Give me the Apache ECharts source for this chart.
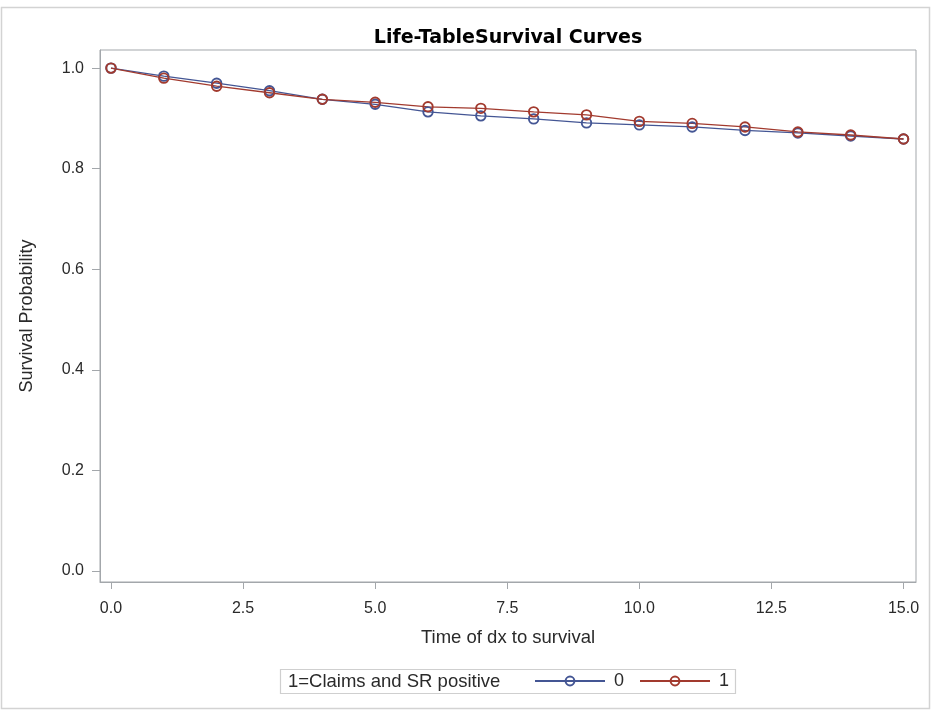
<!DOCTYPE html>
<html>
<head>
<meta charset="utf-8">
<script src="https://cdn.jsdelivr.net/npm/echarts@6/dist/echarts.min.js"></script>
<style>
  html, body { margin: 0; padding: 0; background: #fff; }
  #chart { width: 932px; height: 714px; }
</style>
</head>
<body>
<div id="chart"></div>
<script>
// Life-table survival estimates by group (interval start times 0..15)
const times = [0, 1, 2, 3, 4, 5, 6, 7, 8, 9, 10, 11, 12, 13, 14, 15];
const survival0 = [1.000, 0.984, 0.970, 0.955, 0.938, 0.928, 0.913, 0.905, 0.899, 0.891, 0.887, 0.883, 0.876, 0.871, 0.865, 0.859];
const survival1 = [1.000, 0.980, 0.964, 0.951, 0.938, 0.932, 0.923, 0.920, 0.913, 0.907, 0.894, 0.890, 0.883, 0.873, 0.867, 0.859];
const xTicks = [0, 2.5, 5, 7.5, 10, 12.5, 15];
const yTicks = [0, 0.2, 0.4, 0.6, 0.8, 1.0];
const groupNames = ['0', '1'];
const legendTitle = '1=Claims and SR positive';

const FONT = '"Liberation Sans", Arial, sans-serif';
const TEXT = '#2a2a2a';
const AXIS = '#a3a7ab';
const BLUE = '#445694';
const RED = '#a23a2e';

const chart = echarts.init(document.getElementById('chart'), null, { renderer: 'canvas' });

function pairs(vals) {
  return times.map((t, i) => [t, vals[i]]);
}

// hollow ring markers so overlapping points of both groups stay visible
const seriesStyle = (name, vals, color) => ({
  name: name,
  type: 'line',
  data: pairs(vals),
  symbol: 'circle',
  symbolSize: 9.5,
  showAllSymbol: true,
  lineStyle: { color: color, width: 1.3 },
  itemStyle: { color: 'rgba(255,255,255,0)', borderColor: color, borderWidth: 1.9 },
  emphasis: { disabled: true },
  animation: false
});

chart.setOption({
  backgroundColor: '#fff',
  textStyle: { fontFamily: FONT },
  title: {
    text: 'Life-TableSurvival Curves',
    left: 503,
    textAlign: 'center',
    top: 24,
    textStyle: { fontFamily: '"DejaVu Sans", sans-serif', fontSize: 19, fontWeight: 'bold', color: '#000' }
  },
  grid: {
    left: 100, right: 16, top: 50, bottom: 132,
    show: true, borderColor: AXIS, borderWidth: 1, backgroundColor: '#fff'
  },
  xAxis: {
    type: 'value',
    min: -0.208, max: 15.236,
    name: 'Time of dx to survival',
    nameLocation: 'middle',
    nameGap: 46,
    nameMoveOverlap: false,
    nameTextStyle: { fontFamily: FONT, fontSize: 18.5, color: TEXT, verticalAlign: 'top' },
    axisLine: { show: true, onZero: false, lineStyle: { color: AXIS } },
    axisTick: { show: true, inside: false, length: 7, lineStyle: { color: AXIS }, customValues: xTicks },
    axisLabel: {
      fontFamily: FONT, fontSize: 16, color: TEXT, margin: 19,
      customValues: xTicks,
      formatter: v => v.toFixed(1)
    },
    splitLine: { show: false }
  },
  yAxis: {
    type: 'value',
    min: -0.022, max: 1.036,
    name: 'Survival Probability',
    nameLocation: 'middle',
    nameGap: 64,
    nameMoveOverlap: false,
    nameTextStyle: { fontFamily: FONT, fontSize: 18, color: TEXT },
    axisLine: { show: true, onZero: false, lineStyle: { color: AXIS } },
    axisTick: { show: true, inside: false, length: 8, lineStyle: { color: AXIS }, customValues: yTicks },
    axisLabel: {
      fontFamily: FONT, fontSize: 16, color: TEXT, margin: 16,
      customValues: yTicks,
      formatter: v => v.toFixed(1)
    },
    splitLine: { show: false }
  },
  legend: {
    data: groupNames,
    left: 534,
    top: 672,
    padding: 0,
    itemWidth: 70,
    itemHeight: 11,
    itemGap: 15,
    selectedMode: false,
    textStyle: { fontFamily: FONT, fontSize: 18, color: TEXT, padding: [0, 0, 0, 4] }
  },
  graphic: [
    {
      type: 'rect', silent: true, z: -10,
      shape: { x: 1.5, y: 7.5, width: 928, height: 701 },
      style: { fill: 'none', stroke: '#d3d3d3', lineWidth: 1.5 }
    },
    {
      type: 'rect', silent: true,
      shape: { x: 280.5, y: 669.5, width: 455, height: 24 },
      style: { fill: '#fff', stroke: '#cfcfcf', lineWidth: 1.2 }
    },
    {
      type: 'text', silent: true, z: 100,
      left: 288, top: 672,
      style: { text: legendTitle, fontFamily: FONT, fontSize: 18.5, fill: TEXT }
    }
  ],
  series: [
    seriesStyle(groupNames[0], survival0, BLUE),
    seriesStyle(groupNames[1], survival1, RED)
  ]
});
</script>
</body>
</html>
